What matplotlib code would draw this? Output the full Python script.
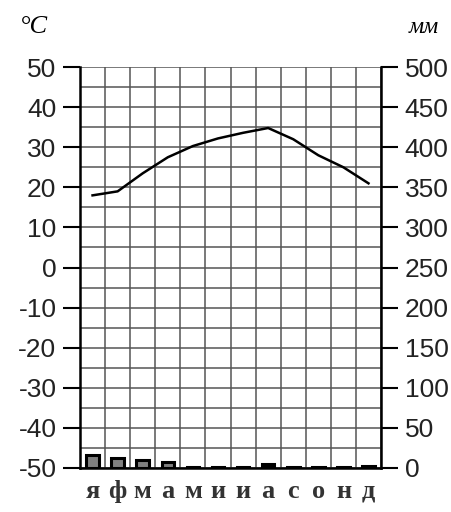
import matplotlib.pyplot as plt
import numpy as np

plt.rcParams['axes.unicode_minus'] = False

# climatogram data
months = ['я', 'ф', 'м', 'а', 'м', 'и', 'и', 'а', 'с', 'о', 'н', 'д']
temperatura = [18, 19, 23.5, 27.5, 30.3, 32.2, 33.6, 34.8, 32, 28, 25, 21]
osadki = [16, 13, 10, 7, 1.5, 1.5, 1.5, 5, 1.5, 1.5, 1.5, 3]

x = np.arange(len(months)) + 0.5

fig = plt.figure(figsize=(4.52, 5.12), dpi=100)
ax = fig.add_axes([0.177, 0.086, 0.666, 0.783])
ax2 = ax.twinx()

ax.set_xlim(0, 12)
ax.set_ylim(-50, 50)
ax2.set_ylim(0, 500)

# grid
for yy in range(-50, 51, 5):
    ax.axhline(yy, color='#555555', lw=1.1, zorder=1)
for xx in range(0, 13):
    ax.axvline(xx, color='#555555', lw=1.1, zorder=1)

# precipitation bars
cores = ['#808080' if v > 6 else 'black' for v in osadki]
ax2.bar(x, osadki, width=0.5, color=cores, edgecolor='black', linewidth=2.2, zorder=3)

# temperature line
ax.plot(x, temperatura, color='black', lw=1.8, zorder=4)

ax.set_yticks(range(-50, 51, 10))
ax2.set_yticks(range(0, 501, 50))
ax.set_xticks([])
for a in (ax, ax2):
    for s in a.spines.values():
        s.set_visible(False)
ax.spines['left'].set_visible(True)
ax.spines['left'].set_linewidth(1.8)
ax2.spines['right'].set_visible(True)
ax2.spines['right'].set_linewidth(1.8)
ax.spines['bottom'].set_visible(True)
ax.spines['bottom'].set_linewidth(1.8)

ax.tick_params(axis='y', length=12, width=1.5, labelsize=19, pad=5)
ax2.tick_params(axis='y', length=12, width=1.5, labelsize=19, pad=5)
for lab in ax.get_yticklabels() + ax2.get_yticklabels():
    lab.set_fontfamily('Liberation Sans')
    lab.set_color('#222222')

for xi, m in zip(x, months):
    ax.text(xi, -53, m, ha='center', va='top', fontsize=19, fontweight='bold',
            family='Liberation Serif', color='#333333')

fig.text(0.045, 0.935, '°C', fontsize=19, style='italic', family='Liberation Serif')
fig.text(0.905, 0.935, 'мм', fontsize=17, style='italic', family='Liberation Serif')

fig.savefig('out.png', dpi=100)
